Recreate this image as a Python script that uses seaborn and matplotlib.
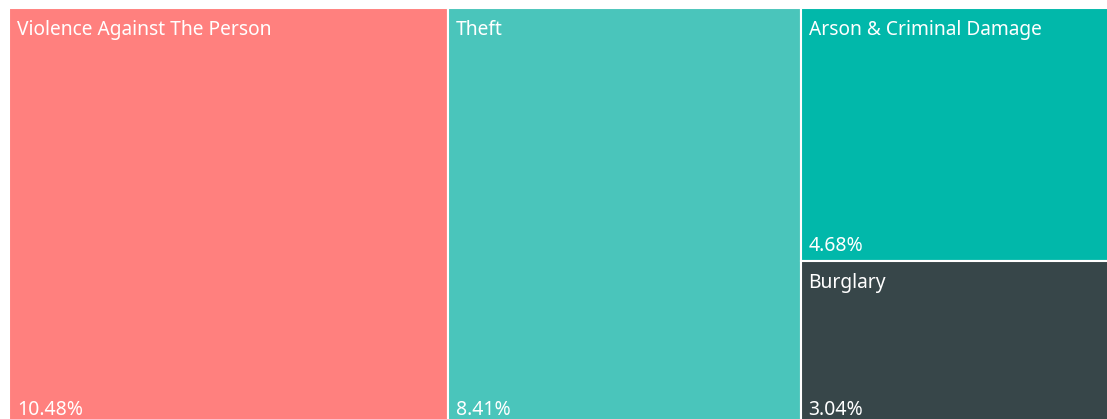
import matplotlib
matplotlib.use("Agg")
import matplotlib.pyplot as plt
from matplotlib.patches import Rectangle
import seaborn as sns

# crime share by category (percent of total)
categories = ["Violence Against The Person", "Theft", "Arson & Criminal Damage", "Burglary"]
shares = [10.48, 8.41, 4.68, 3.04]
share_labels = ["10.48%", "8.41%", "4.68%", "3.04%"]
colors = ["#FF807E", "#4AC5BB", "#01B8AA", "#374649"]

sns.set_style("white")
plt.rcParams["font.family"] = ["Noto Sans", "DejaVu Sans"]


def worst(row, side):
    s = sum(row)
    return max(max(side * side * r / (s * s), s * s / (side * side * r)) for r in row)


def squarify(vals, x, y, w, h):
    # vals already scaled so sum(vals) == w * h
    rects = []
    vals = list(vals)
    while vals:
        side = min(w, h)
        row = [vals.pop(0)]
        while vals and worst(row + [vals[0]], side) <= worst(row, side):
            row.append(vals.pop(0))
        s = sum(row)
        if w >= h:
            cw = s / h
            cy = y
            for r in row:
                rects.append((x, cy, cw, r / cw))
                cy += r / cw
            x += cw
            w -= cw
        else:
            ch = s / w
            cx = x
            for r in row:
                rects.append((cx, y, r / ch, ch))
                cx += r / ch
            y += ch
            h -= ch
    return rects


fig = plt.figure(figsize=(11.07, 4.19), dpi=100)
ax = fig.add_axes([0, 0, 1, 1])
ax.set_xlim(0, 1107)
ax.set_ylim(419, 0)
ax.axis("off")

x0, y0, W, H = 9, 8, 1115, 417
total = sum(shares)
scaled = [v / total * W * H for v in shares]
rects = squarify(scaled, x0, y0, W, H)

for (rx, ry, rw, rh), name, lab, c in zip(rects, categories, share_labels, colors):
    ax.add_patch(Rectangle((rx, ry), rw, rh, facecolor=c, edgecolor="white", linewidth=1.5))
    ax.text(rx + 8, ry + 12, name, color="white", fontsize=13.8, va="top", ha="left")
    ax.text(rx + 8, ry + rh - 5, lab, color="white", fontsize=14, va="bottom", ha="left")

fig.savefig("out.png", dpi=100, facecolor="white")
